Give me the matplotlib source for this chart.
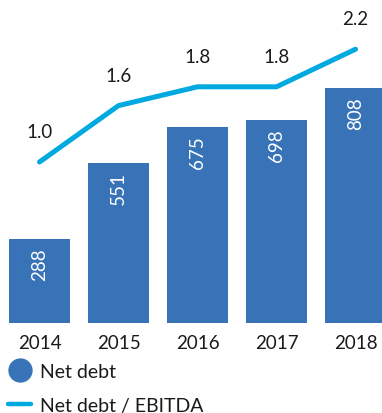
import matplotlib
matplotlib.use("Agg")
import matplotlib.pyplot as plt
from matplotlib.lines import Line2D

plt.rcParams['font.family'] = ['Lato', 'DejaVu Sans']

years = ["2014", "2015", "2016", "2017", "2018"]
net_debt = [288, 551, 675, 698, 808]
debt_ebitda = [1.0, 1.6, 1.8, 1.8, 2.2]

bar_color = "#3873b8"
line_color = "#00a9e0"
text_color = "#1a1a1a"
fs = 13.5

fig = plt.figure(figsize=(3.82, 4.14), dpi=100)
ax = fig.add_axes([0.0, (414 - 324) / 414, 1.0, (324 - 10) / 414])

x = list(range(len(years)))
bars = ax.bar(x, net_debt, width=0.77, color=bar_color, zorder=2)
ax.set_xlim(-0.5, 4.335)
ax.set_ylim(0, 314 / 0.291)

for xi, v in zip(x, net_debt):
    ax.annotate(f"{v}", xy=(xi, v), xytext=(0, -6), textcoords="offset points",
                rotation=90, ha="center", va="top", color="white", fontsize=fs)

ax2 = ax.twinx()
ax2.set_ylim((257 - 324) / 94, (257 - 10) / 94)
ax2.plot(x, debt_ebitda, color=line_color, lw=3.6, solid_capstyle="round",
         solid_joinstyle="round", zorder=3)
for xi, v in zip(x, debt_ebitda):
    ax2.annotate(f"{v:.1f}", xy=(xi, v), xytext=(0, 22), textcoords="offset points",
                 ha="center", va="center", color=text_color, fontsize=fs)

for a in (ax, ax2):
    for s in a.spines.values():
        s.set_visible(False)
    a.set_yticks([])
ax.set_xticks(x)
ax.set_xticklabels(years, fontsize=fs, color=text_color)
ax.tick_params(axis="x", length=0, pad=8)

handles = [
    Line2D([], [], marker="o", linestyle="none", markersize=16.5, color=bar_color),
    Line2D([], [], color=line_color, lw=3.2, solid_capstyle="round"),
]
fig.legend(handles, ["Net debt", "Net debt / EBITDA"], loc="upper left",
           bbox_to_anchor=(0.022, (414 - 364) / 414), frameon=False,
           fontsize=14, handlelength=1.15, handletextpad=0.5, labelspacing=0.85,
           borderaxespad=0, borderpad=0, labelcolor=text_color)

fig.savefig("out.png", dpi=100)
